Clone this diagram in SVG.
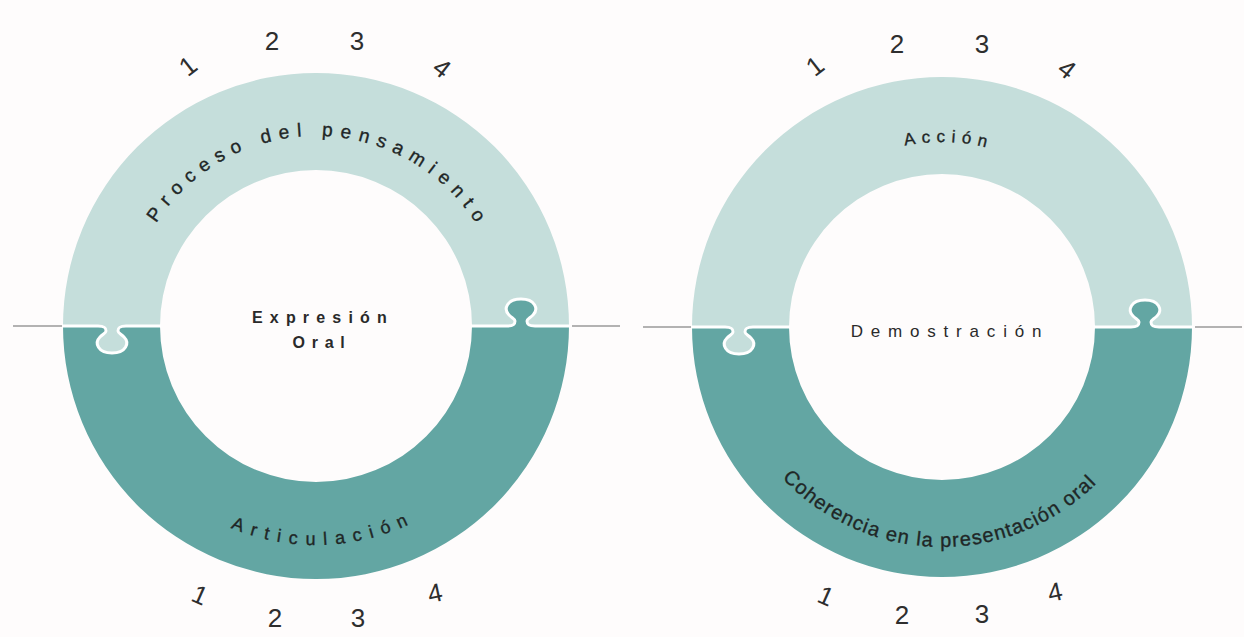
<svg xmlns="http://www.w3.org/2000/svg" xmlns:xlink="http://www.w3.org/1999/xlink" width="1244" height="637" viewBox="0 0 1244 637">
  <style>
    .light { fill: #c5dedb; }
    .dark { fill: #63a6a3; }
    .seam { stroke: #ffffff; stroke-width: 3; fill: none; }
    .knob-edge { stroke: #ffffff; stroke-width: 3; fill: none; }
    .rule { stroke: #9a9a9a; stroke-width: 1.5; }
    .num { font-family: "Liberation Sans", Arial, sans-serif; font-size: 26px; fill: #2e2e2e; text-anchor: middle; }
    .arc { font-family: "Liberation Sans", Arial, sans-serif; fill: #1f2626; stroke: #1f2626; stroke-width: 0.35; text-anchor: middle; }
    .center { font-family: "Liberation Sans", Arial, sans-serif; fill: #2a2a2a; text-anchor: middle; }
  </style>
  <defs>
    <!-- puzzle tab hanging below the seam, origin at the seam centre -->
    <g id="tab">
      <path d="M-14 0 C-7 0 -6 2 -6 5 C-6 7 -9 8 -12 11 C-18 17 -14 27 0 27 C14 27 18 17 12 11 C9 8 6 7 6 5 C6 2 7 0 14 0 Z"/>
      <path class="knob-edge" d="M-14 0 C-7 0 -6 2 -6 5 C-6 7 -9 8 -12 11 C-18 17 -14 27 0 27 C14 27 18 17 12 11 C9 8 6 7 6 5 C6 2 7 0 14 0"/>
    </g>
    <!-- text baselines -->
    <path id="arcTopL" d="M126 326 A190 190 0 0 1 506 326"/>
    <path id="arcBotL" d="M97 326 A219 219 0 0 0 535 326"/>
    <path id="arcTopR" d="M757 327 A185 185 0 0 1 1127 327"/>
    <path id="arcBotR" d="M722 327 A220 220 0 0 0 1162 327"/>
  </defs>

  <rect width="1244" height="637" fill="#fefcfc"/>

  <!-- horizontal guide lines -->
  <g id="connectors">
    <line class="rule" x1="13" y1="326" x2="62" y2="326"/>
    <line class="rule" x1="572" y1="326" x2="620" y2="326"/>
    <line class="rule" x1="643" y1="327" x2="691" y2="327"/>
    <line class="rule" x1="1195" y1="327" x2="1242" y2="327"/>
  </g>

  <!-- left ring -->
  <g id="ring-expresion">
    <path class="light" d="M63 326 A253 253 0 0 1 569 326 L472 326 A156 156 0 0 0 160 326 Z"/>
    <path class="dark" d="M63 326 A253 253 0 0 0 569 326 L472 326 A156 156 0 0 1 160 326 Z"/>
    <line class="seam" x1="62" y1="326" x2="98" y2="326"/>
    <line class="seam" x1="126" y1="326" x2="161" y2="326"/>
    <line class="seam" x1="471" y1="326" x2="507" y2="326"/>
    <line class="seam" x1="535" y1="326" x2="570" y2="326"/>
    <use href="#tab" class="light" transform="translate(112 326)"/>
    <use href="#tab" class="dark" transform="translate(521 326) scale(1 -1)"/>
    <text class="arc" font-size="19" letter-spacing="7.5"><textPath href="#arcTopL" startOffset="302">Proceso del pensamiento</textPath></text>
    <text class="arc" font-size="18" letter-spacing="8.2"><textPath href="#arcBotL" startOffset="352">Articulación</textPath></text>
    <text class="center" font-size="16" font-weight="bold" letter-spacing="7.2" x="323" y="323">Expresión</text>
    <text class="center" font-size="16" font-weight="bold" letter-spacing="6.8" x="322" y="348">Oral</text>
  </g>

  <!-- numbers around the left ring -->
  <g id="numbers-left">
    <text class="num" transform="translate(188 66) rotate(-38)" y="9">1</text>
    <text class="num" x="272" y="50">2</text>
    <text class="num" x="357" y="50">3</text>
    <text class="num" transform="translate(442 68) rotate(38)" y="9">4</text>
    <text class="num" transform="translate(200 595) rotate(24)" y="9">1</text>
    <text class="num" x="275" y="627">2</text>
    <text class="num" x="358" y="627">3</text>
    <text class="num" transform="translate(435 593) rotate(-12)" y="9">4</text>
  </g>

  <!-- right ring -->
  <g id="ring-demostracion">
    <path class="light" d="M692 327 A250 250 0 0 1 1192 327 L1095 327 A153 153 0 0 0 789 327 Z"/>
    <path class="dark" d="M692 327 A250 250 0 0 0 1192 327 L1095 327 A153 153 0 0 1 789 327 Z"/>
    <line class="seam" x1="691" y1="327" x2="725" y2="327"/>
    <line class="seam" x1="753" y1="327" x2="790" y2="327"/>
    <line class="seam" x1="1094" y1="327" x2="1131" y2="327"/>
    <line class="seam" x1="1159" y1="327" x2="1193" y2="327"/>
    <use href="#tab" class="light" transform="translate(739 327)"/>
    <use href="#tab" class="dark" transform="translate(1145 327) scale(1 -1)"/>
    <text class="arc" font-size="17" letter-spacing="6.2"><textPath href="#arcTopR" startOffset="297">Acción</textPath></text>
    <text class="arc" font-size="20" letter-spacing="1.2" stroke-width="0.2"><textPath href="#arcBotR" startOffset="342">Coherencia en la presentación oral</textPath></text>
    <text class="center" font-size="17" letter-spacing="7.8" x="950" y="337">Demostración</text>
  </g>

  <!-- numbers around the right ring -->
  <g id="numbers-right">
    <text class="num" transform="translate(815 66) rotate(-38)" y="9">1</text>
    <text class="num" x="897" y="53">2</text>
    <text class="num" x="982" y="53">3</text>
    <text class="num" transform="translate(1067 69) rotate(38)" y="9">4</text>
    <text class="num" transform="translate(826 596) rotate(24)" y="9">1</text>
    <text class="num" x="902" y="624">2</text>
    <text class="num" x="982" y="623">3</text>
    <text class="num" transform="translate(1055 592) rotate(-12)" y="9">4</text>
  </g>
</svg>
